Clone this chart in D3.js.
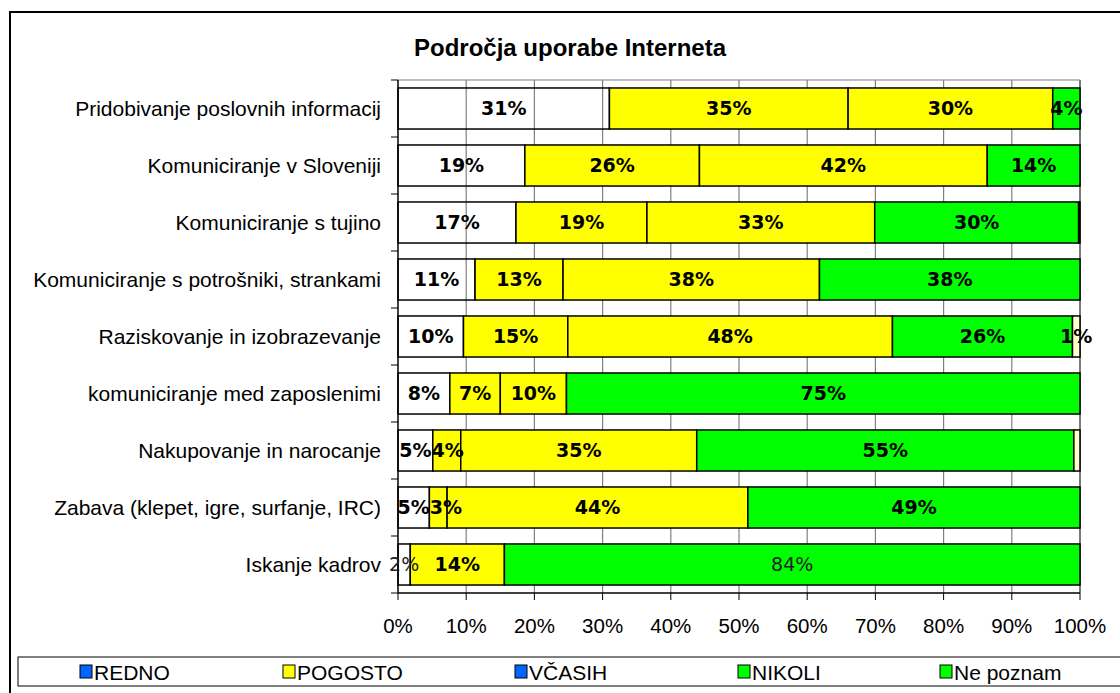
<!DOCTYPE html>
<meta charset="utf-8">
<style>
  body { margin: 0; background: #fff; }
  svg { display: block; }
  text { font-family: "Liberation Sans", Arial, sans-serif; }
</style>
<body></body>
<script src="https://d3js.org/d3.v7.min.js"></script>
<script>

  var title = "Področja uporabe Interneta";

  var categories = [
    "Pridobivanje poslovnih informacij",
    "Komuniciranje v Sloveniji",
    "Komuniciranje s tujino",
    "Komuniciranje s potrošniki, strankami",
    "Raziskovanje in izobrazevanje",
    "komuniciranje med zaposlenimi",
    "Nakupovanje in narocanje",
    "Zabava (klepet, igre, surfanje, IRC)",
    "Iskanje kadrov"
  ];

  var seriesNames = ["REDNO", "POGOSTO", "VČASIH", "NIKOLI", "Ne poznam"];

  // percent of answers per row
  var redno    = [31, 18.6, 17.3, 11.3,  9.6,  7.6,  5.1,  4.6,  1.8];
  var pogosto  = [35, 25.6, 19.2, 12.9, 15.3,  7.4,  4.1,  2.6, 13.8];
  var vcasih   = [30, 42.2, 33.4, 37.6, 47.6,  9.7, 34.6, 44.1,  0];
  var nikoli   = [ 4, 13.6, 29.9, 38.2, 26.4, 75.3, 55.3, 48.7, 84.4];
  var nepoznam = [ 0,  0,    0.2,  0,    1.1,  0,    0.9,  0,    0];

  var xTicks = [0, 10, 20, 30, 40, 50, 60, 70, 80, 90, 100];

  var barColors = ["none", "#FFFF00", "#FFFF00", "#00FF00", "#FFFFCC"];
  var legendColors = ["#0066FF", "#FFFF00", "#0066FF", "#00FF00", "#00FF00"];
  var legendX = [80, 283, 515, 738, 940];

  // labels that Excel printed in regular weight
  var plainLabels = [[8, 0], [8, 3]];

  var W = 1120, H = 693;
  var plot = {left: 398, right: 1080, top: 80, bottom: 593};

  var svg = d3.select("body").append("svg")
    .attr("width", W)
    .attr("height", H);

  // outer chart frame
  svg.append("rect")
    .attr("x", 10).attr("y", 12)
    .attr("width", W + 20).attr("height", H + 20)
    .attr("fill", "#fff")
    .attr("stroke", "#000")
    .attr("stroke-width", 2);

  svg.append("text")
    .attr("x", 570).attr("y", 56)
    .attr("text-anchor", "middle")
    .attr("font-size", "24px")
    .attr("font-weight", "bold")
    .text(title);

  var x = d3.scaleLinear()
    .domain([0, 100])
    .range([plot.left, plot.right]);

  var y = d3.scaleBand()
    .domain(d3.range(categories.length))
    .range([plot.top, plot.bottom])
    .paddingInner(0.28)
    .paddingOuter(0.14);

  var columns = [redno, pogosto, vcasih, nikoli, nepoznam];
  var rows = categories.map(function(c, i) {
    var r = {cat: i};
    seriesNames.forEach(function(s, j) { r[s] = columns[j][i]; });
    return r;
  });

  var stacked = d3.stack().keys(seriesNames)(rows);

  // gridlines
  svg.append("g").selectAll("line")
    .data(xTicks.slice(1))
    .enter().append("line")
    .attr("x1", function(d) { return x(d); })
    .attr("x2", function(d) { return x(d); })
    .attr("y1", plot.top)
    .attr("y2", plot.bottom)
    .attr("stroke", function(d) { return d === 100 ? "#222" : "#808080"; })
    .attr("stroke-width", 1.2);

  svg.append("line")
    .attr("x1", plot.left).attr("x2", plot.right)
    .attr("y1", plot.top).attr("y2", plot.top)
    .attr("stroke", "#808080")
    .attr("stroke-width", 1.2);

  // bars
  var layers = svg.append("g").selectAll("g")
    .data(stacked)
    .enter().append("g")
    .attr("fill", function(d, i) { return barColors[i]; });

  layers.selectAll("rect")
    .data(function(d) { return d.filter(function(p) { return p[1] - p[0] > 0; }); })
    .enter().append("rect")
    .attr("x", function(d) { return x(d[0]); })
    .attr("y", function(d) { return y(d.data.cat); })
    .attr("width", function(d) { return x(d[1]) - x(d[0]); })
    .attr("height", y.bandwidth())
    .attr("stroke", "#000")
    .attr("stroke-width", 1.5);

  // axes lines
  svg.append("line")
    .attr("x1", plot.left).attr("x2", plot.left)
    .attr("y1", plot.top).attr("y2", plot.bottom)
    .attr("stroke", "#000").attr("stroke-width", 1.5);
  svg.append("line")
    .attr("x1", plot.left).attr("x2", plot.right)
    .attr("y1", plot.bottom).attr("y2", plot.bottom)
    .attr("stroke", "#000").attr("stroke-width", 1.5);

  // category ticks between bands
  var step = y.step();
  var band0 = y(0) - y.paddingOuter() * step;
  svg.append("g").selectAll("line")
    .data(d3.range(categories.length + 1))
    .enter().append("line")
    .attr("x1", plot.left - 7).attr("x2", plot.left)
    .attr("y1", function(i) { return band0 + i * step; })
    .attr("y2", function(i) { return band0 + i * step; })
    .attr("stroke", "#000");

  svg.append("g").selectAll("text")
    .data(categories)
    .enter().append("text")
    .attr("x", plot.left - 17)
    .attr("y", function(d, i) { return y(i) + y.bandwidth() / 2; })
    .attr("dy", "0.35em")
    .attr("text-anchor", "end")
    .attr("font-size", "21px")
    .text(function(d) { return d; });

  // x ticks
  svg.append("g").selectAll("line")
    .data(xTicks)
    .enter().append("line")
    .attr("x1", function(d) { return x(d); })
    .attr("x2", function(d) { return x(d); })
    .attr("y1", plot.bottom).attr("y2", plot.bottom + 7)
    .attr("stroke", "#000");

  svg.append("g").selectAll("text")
    .data(xTicks)
    .enter().append("text")
    .attr("x", function(d) { return x(d); })
    .attr("y", 626)
    .attr("dy", "0.35em")
    .attr("text-anchor", "middle")
    .attr("font-size", "20.5px")
    .text(function(d) { return d + "%"; });

  // value labels
  function isPlain(r, s) {
    return plainLabels.some(function(p) { return p[0] === r && p[1] === s; });
  }
  var lastRight = {};  // right edge of previous label in each row
  stacked.forEach(function(layer, s) {
    layer.forEach(function(d) {
      var v = d[1] - d[0];
      if (v < 1) return;
      var r = d.data.cat;
      var t = svg.append("text")
        .attr("x", x((d[0] + d[1]) / 2))
        .attr("y", y(r) + y.bandwidth() / 2)
        .attr("dy", "0.36em")
        .attr("text-anchor", "middle")
        .style("font-family", "'DejaVu Sans', Verdana, sans-serif")
        .attr("font-size", "19px")
        .attr("font-weight", isPlain(r, s) ? "normal" : "bold")
        .attr("fill", isPlain(r, s) ? "#222" : "#000")
        .text(Math.round(v) + "%");
      var w = t.node().getComputedTextLength();
      var cx = +t.attr("x");
      // nudge right when it would run into the label before it
      if (lastRight[r] !== undefined && cx - w / 2 < lastRight[r]) {
        cx = lastRight[r] + w / 2;
        t.attr("x", cx);
      }
      lastRight[r] = cx + w / 2;
    });
  });

  // legend
  svg.append("rect")
    .attr("x", 18).attr("y", 657)
    .attr("width", W).attr("height", 29)
    .attr("fill", "#fff")
    .attr("stroke", "#000")
    .attr("stroke-width", 1);

  var legend = svg.append("g").selectAll("g")
    .data(seriesNames)
    .enter().append("g")
    .attr("transform", function(d, i) { return "translate(" + legendX[i] + ",671)"; });

  legend.append("rect")
    .attr("x", 0).attr("y", -6)
    .attr("width", 12).attr("height", 13)
    .attr("fill", function(d, i) { return legendColors[i]; })
    .attr("stroke", "#000")
    .attr("stroke-width", 1);

  legend.append("text")
    .attr("x", 14).attr("y", 1)
    .attr("dy", "0.36em")
    .attr("font-size", "21px")
    .text(function(d) { return d; });

</script>
